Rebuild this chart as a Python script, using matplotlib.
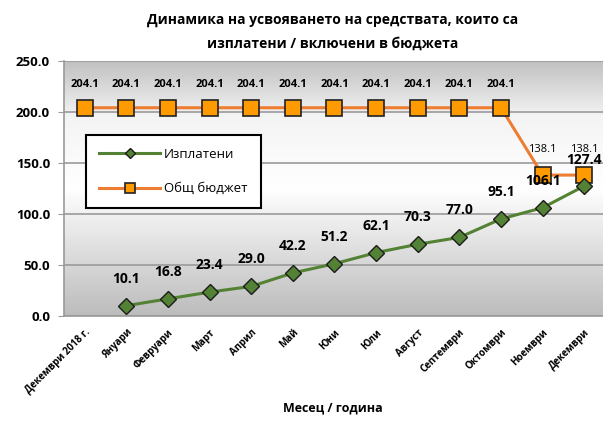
import matplotlib.pyplot as plt
import matplotlib.colors as mcolors
import numpy as np

plt.rcParams['font.family'] = ['Open Sans', 'DejaVu Sans']

# categories and series
months = ['Декември 2018 г.', 'Януари', 'Февруари', 'Март', 'Април', 'Май', 'Юни',
          'Юли', 'Август', 'Септември', 'Октомври', 'Ноември', 'Декември']
paid = [np.nan, 10.1, 16.8, 23.4, 29.0, 42.2, 51.2, 62.1, 70.3, 77.0, 95.1, 106.1, 127.4]
budget = [204.1] * 11 + [138.1, 138.1]

fig = plt.figure(figsize=(6.03, 4.23), dpi=100)
ax = fig.add_axes([0.106, 0.253, 0.894, 0.603])

x = np.arange(len(months))
ax.set_xlim(-0.5, len(months) - 0.55)
ax.set_ylim(0, 250)

# background gradient: gray at top and bottom, white in the middle
cmap = mcolors.LinearSegmentedColormap.from_list(
    'bg', [(0.0, '#bcbcbc'), (0.5, '#ffffff'), (0.78, '#f4f4f4'), (1.0, '#c0c0c0')])
grad = np.linspace(0, 1, 256).reshape(-1, 1)
ax.imshow(grad, aspect='auto', cmap=cmap, extent=[-0.5, len(months), 0, 250],
          origin='lower', zorder=0)

ax.set_yticks(np.arange(0, 251, 50))
ax.set_yticklabels(['%.1f' % v for v in np.arange(0, 251, 50)],
                   fontsize=9.5, fontweight='bold')
ax.grid(axis='y', color='#9a9a9a', linewidth=1.2, zorder=1)
ax.set_axisbelow(False)

ax.plot(x, budget, color='#ED7D31', linewidth=2.2, marker='s', markersize=11,
        markerfacecolor='#FF9A00', markeredgecolor='#222222', markeredgewidth=1.2,
        label='Общ бюджет', zorder=3)
ax.plot(x, paid, color='#548235', linewidth=2.2, marker='D', markersize=8,
        markerfacecolor='#548235', markeredgecolor='#1c1c1c', markeredgewidth=1.0,
        label='Изплатени', zorder=4)

for i, v in enumerate(budget):
    if i < 11:
        ax.annotate('%.1f' % v, (i, v), xytext=(0, 16.5), textcoords='offset points',
                    ha='center', va='center', fontsize=8, fontweight='bold')
    else:
        ax.annotate('%.1f' % v, (i, v), xytext=(0, 18.5), textcoords='offset points',
                    ha='center', va='center', fontsize=8)
for i, v in enumerate(paid):
    if np.isnan(v):
        continue
    dy = 19.5 if i < len(paid) - 1 else 18.5
    ax.annotate('%.1f' % v, (i, v), xytext=(0, dy), textcoords='offset points',
                ha='center', va='center', fontsize=10, fontweight='bold')

ax.set_xticks(x)
ax.set_xticklabels(months, rotation=45, ha='right', rotation_mode='anchor',
                   fontsize=7, fontweight='bold')
ax.tick_params(axis='x', length=0, pad=8)
ax.tick_params(axis='y', length=4, color='#9a9a9a', pad=6)
for side in ['top', 'right']:
    ax.spines[side].set_visible(False)
for side in ['left', 'bottom']:
    ax.spines[side].set_color('#9a9a9a')
    ax.spines[side].set_linewidth(1.2)

fig.text(333 / 603, 1 - 408 / 423, 'Месец / година', ha='center', va='center',
         fontsize=9, fontweight='bold')

handles, labels = ax.get_legend_handles_labels()
leg = ax.legend(handles[::-1], labels[::-1], loc='upper left',
                bbox_to_anchor=(0.041, 0.71), fontsize=9.5, frameon=True,
                fancybox=False, edgecolor='black', framealpha=1, markerscale=0.7,
                handlelength=4.6, labelspacing=1.6, borderpad=1.0, handletextpad=0.3,
                borderaxespad=0)
leg.get_frame().set_linewidth(1.5)

fig.text(333 / 603, 1 - 20 / 423, 'Динамика на усвояването на средствата, които са',
         ha='center', va='center', fontsize=10, fontweight='bold')
fig.text(333 / 603, 1 - 44 / 423, 'изплатени / включени в бюджета',
         ha='center', va='center', fontsize=10, fontweight='bold')

fig.savefig('out.png', dpi=100)
